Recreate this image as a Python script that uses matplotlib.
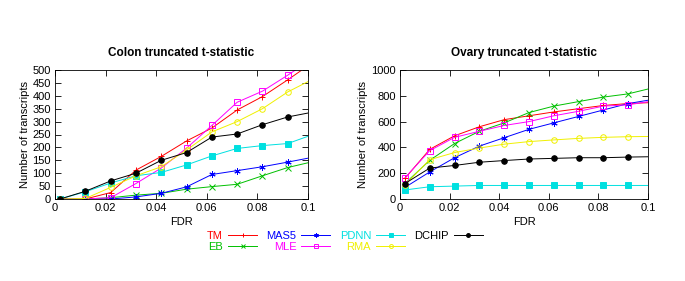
import matplotlib
matplotlib.use("Agg")
import matplotlib.pyplot as plt

plt.rcParams['font.family'] = ['Liberation Sans', 'DejaVu Sans']

fdr = [0.002, 0.012, 0.022, 0.032, 0.042, 0.052, 0.062, 0.072, 0.082, 0.092, 0.102]

methods = ["TM", "EB", "MAS5", "MLE", "PDNN", "RMA", "DCHIP"]
colors = ["#ff0000", "#00c000", "#0000ff", "#ff00ff", "#00e0e0", "#f0f000", "#000000"]
markers = ["+", "x", (6, 2, 0), "s", "s", "o", "o"]
fills = ["none", "none", "none", "none", "full", "none", "full"]

colon = {
    "TM":    [0, 0, 25, 112, 165, 225, 275, 345, 397, 462, 530],
    "EB":    [0, 0, 5, 15, 22, 38, 48, 57, 90, 122, 145],
    "MAS5":  [0, 0, 0, 8, 22, 47, 95, 110, 125, 143, 162],
    "MLE":   [0, 0, 5, 60, 120, 197, 285, 375, 418, 480, 545],
    "PDNN":  [0, 28, 62, 90, 103, 132, 167, 196, 207, 215, 250],
    "RMA":   [0, 2, 45, 90, 125, 190, 260, 300, 350, 415, 465],
    "DCHIP": [0, 30, 70, 100, 150, 180, 240, 252, 288, 318, 337],
}
ovary = {
    "TM":    [160, 385, 490, 560, 615, 645, 675, 700, 725, 740, 748],
    "EB":    [120, 300, 430, 525, 590, 670, 720, 755, 790, 815, 862],
    "MAS5":  [90, 210, 320, 410, 475, 540, 590, 640, 690, 740, 772],
    "MLE":   [165, 375, 478, 525, 570, 600, 645, 680, 720, 730, 760],
    "PDNN":  [70, 95, 100, 105, 105, 105, 105, 105, 105, 105, 105],
    "RMA":   [110, 305, 360, 395, 425, 445, 458, 470, 478, 483, 485],
    "DCHIP": [120, 240, 260, 285, 298, 310, 315, 320, 320, 325, 328],
}

fig = plt.figure(figsize=(6.85, 2.81), dpi=100)
ax1 = fig.add_axes([55/685, 1-199/281, 253/685, 129/281])
ax2 = fig.add_axes([400/685, 1-199/281, 248/685, 129/281])

def draw(ax, data, title, ymax, ystep):
    for m, c, mk, f in zip(methods, colors, markers, fills):
        ax.plot(fdr, data[m], color=c, lw=0.7, marker=mk, ms=4.5 if mk != "o" else 4,
                markerfacecolor=(c if f == "full" else "none"), markeredgecolor=c,
                markeredgewidth=0.7, label=m, clip_on=True)
    ax.set_xlim(0, 0.1)
    ax.set_ylim(0, ymax)
    ax.set_xticks([0, 0.02, 0.04, 0.06, 0.08, 0.1])
    ax.set_xticklabels(["0", "0.02", "0.04", "0.06", "0.08", "0.1"])
    ax.set_yticks(range(0, ymax + 1, ystep))
    ax.tick_params(direction="in", length=4, width=0.6, labelsize=8, top=True, right=True, pad=3)
    for s in ax.spines.values():
        s.set_linewidth(0.6)
    ax.set_title(title, fontsize=8.5, fontweight="bold", pad=10)
    ax.set_xlabel("FDR", fontsize=8, labelpad=3)
    ax.set_ylabel("Number of transcripts", fontsize=8, labelpad=2)

draw(ax1, colon, "Colon truncated t-statistic", 500, 50)
draw(ax2, ovary, "Ovary truncated t-statistic", 1000, 200)

handles, labels = ax1.get_legend_handles_labels()
leg = fig.legend(handles, labels, ncol=4, loc="center", bbox_to_anchor=(345/685, 1-241.5/281),
                 frameon=False, markerfirst=False, fontsize=8, labelcolor="linecolor",
                 handlelength=2.6, handletextpad=0.45, columnspacing=0.85, labelspacing=0.1,
                 borderpad=0, markerscale=0.7)

fig.savefig("out.png", dpi=100)
